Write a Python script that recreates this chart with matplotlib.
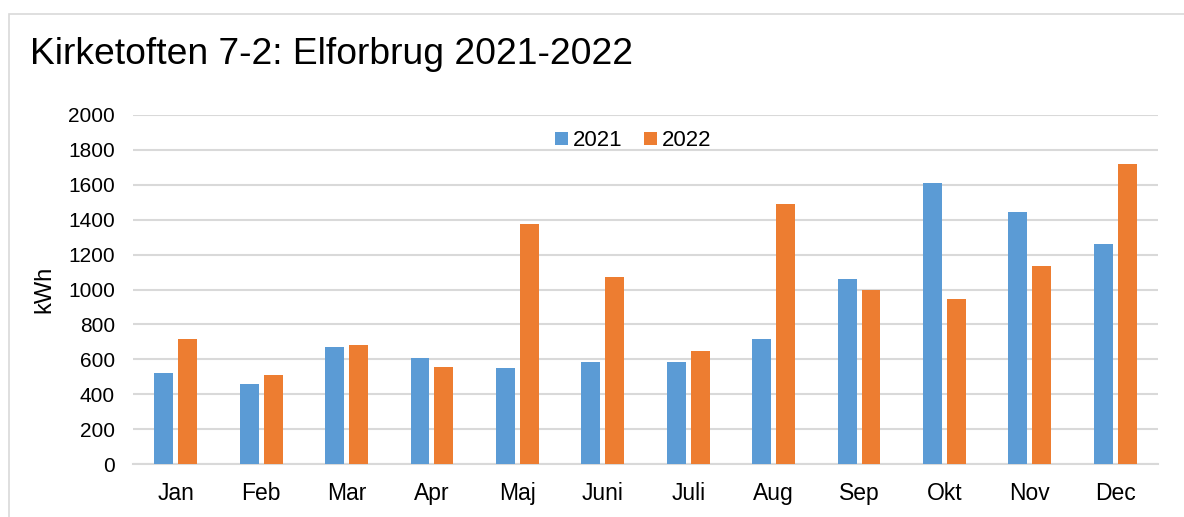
import numpy as np
import matplotlib
matplotlib.use("Agg")
from matplotlib import pyplot as plt
from matplotlib.patches import Rectangle

plt.rcParams['font.family'] = ['Liberation Sans', 'DejaVu Sans']

months = ['Jan', 'Feb', 'Mar', 'Apr', 'Maj', 'Juni', 'Juli', 'Aug', 'Sep', 'Okt', 'Nov', 'Dec']
kwh_2021 = [520, 459, 669, 606, 550, 586, 583, 714, 1063, 1610, 1445, 1258]
kwh_2022 = [719, 509, 684, 558, 1377, 1073, 649, 1488, 998, 948, 1136, 1719]
yticks = [0, 200, 400, 600, 800, 1000, 1200, 1400, 1600, 1800, 2000]

blue = '#5b9bd5'
orange = '#ed7d31'
grid = '#d9d9d9'

fig = plt.figure(figsize=(11.84, 5.17), dpi=100)
# outer chart frame
fig.patches.append(Rectangle((9 / 1184, -0.01), 1.0, 1 - 14 / 517 + 0.01,
                             transform=fig.transFigure, fill=False,
                             edgecolor=grid, linewidth=1.2))

ax = fig.add_axes([133 / 1184, 53 / 517, 1025 / 1184, 349 / 517])
x = np.arange(len(months))
w = 0.222
ax.bar(x - 0.14, kwh_2021, w, color=blue, label='2021', zorder=3)
ax.bar(x + 0.14, kwh_2022, w, color=orange, label='2022', zorder=3)

ax.set_xlim(-0.5, len(months) - 0.5)
ax.set_ylim(0, 2000)
ax.set_yticks(yticks)
ax.set_xticks(x)
ax.set_xticklabels(months)
ax.tick_params(length=0, colors='#000000')
ax.tick_params(axis='x', pad=13, labelsize=16.5)
ax.tick_params(axis='y', pad=13, labelsize=15)
ax.grid(axis='y', color=grid, linewidth=1.5, zorder=0)
for s in ['top', 'right', 'left']:
    ax.spines[s].set_visible(False)
ax.spines['bottom'].set_color(grid)
ax.spines['bottom'].set_linewidth(1.5)
ax.set_ylabel('kWh', fontsize=17)
ax.yaxis.set_label_coords(-0.0761, 0.5)

ax.legend(loc='center', bbox_to_anchor=(0.488, 0.926), ncol=2, frameon=False,
          fontsize=16, handlelength=0.57, handleheight=0.57, handletextpad=0.22,
          columnspacing=1.0)

fig.text(30 / 1184, 1 - 55 / 517, 'Kirketoften 7-2: Elforbrug 2021-2022',
         fontsize=26.8, va='center', ha='left')

fig.savefig('out.png', dpi=100)
